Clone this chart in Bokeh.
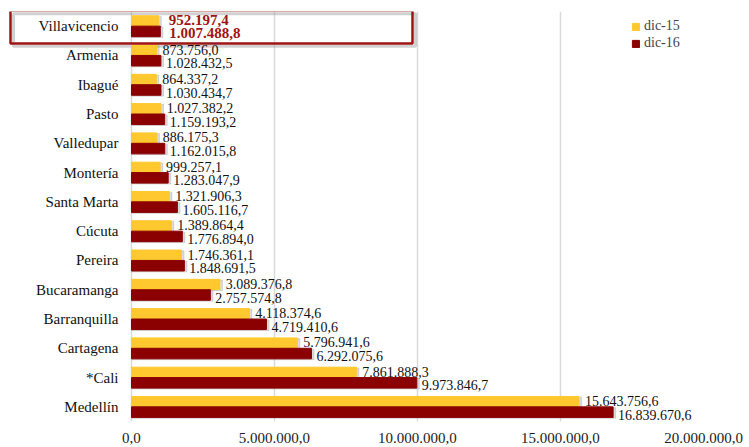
from bokeh.plotting import figure
from bokeh.models import FactorRange, ColumnDataSource, BoxAnnotation, Legend, LegendItem, FixedTicker
from bokeh.transform import dodge
from bokeh.core.properties import value
from bokeh.embed import file_html
from bokeh.resources import INLINE

cities = ["Villavicencio", "Armenia", "Ibagué", "Pasto", "Valledupar", "Montería",
          "Santa Marta", "Cúcuta", "Pereira", "Bucaramanga", "Barranquilla",
          "Cartagena", "*Cali", "Medellín"]
dic15 = [952197.4, 873756.0, 864337.2, 1027382.2, 886175.3, 999257.1, 1321906.3,
         1389864.4, 1746361.1, 3089376.8, 4118374.6, 5796941.6, 7861888.3, 15643756.6]
dic16 = [1007488.8, 1028432.5, 1030434.7, 1159193.2, 1162015.8, 1283047.9, 1605116.7,
         1776894.0, 1848691.5, 2757574.8, 4719410.6, 6292075.6, 9973846.7, 16839670.6]
series_names = ["dic-15", "dic-16"]
x_ticks = [0, 5000000, 10000000, 15000000, 20000000]
x_tick_labels = ["0,0", "5.000.000,0", "10.000.000,0", "15.000.000,0", "20.000.000,0"]
highlight = "Villavicencio"

YELLOW = "#FFC82E"
RED = "#8B0000"
HL = "#9E1414"
FONT = "'Liberation Serif', 'Times New Roman', serif"


def fmt(v):
    s = f"{v:,.1f}"
    return s.replace(",", "X").replace(".", ",").replace("X", ".")


order = cities[::-1]
rows = [(c, a, b) for c, a, b in zip(cities, dic15, dic16)]
normal = [r for r in rows if r[0] != highlight]
hl = [r for r in rows if r[0] == highlight]

src = ColumnDataSource(dict(city=cities, zero=[0] * len(cities), d15=dic15, d16=dic16,
                            s15=[v + 90000 for v in dic15], s16=[v + 90000 for v in dic16]))
src_n = ColumnDataSource(dict(city=[r[0] for r in normal],
                              d15=[r[1] for r in normal], d16=[r[2] for r in normal],
                              l15=[fmt(r[1]) for r in normal], l16=[fmt(r[2]) for r in normal]))
src_h = ColumnDataSource(dict(city=[r[0] for r in hl],
                              d15=[r[1] for r in hl], d16=[r[2] for r in hl],
                              l15=[fmt(r[1]) for r in hl], l16=[fmt(r[2]) for r in hl]))

# leave room left of zero (inside the frame) for the category labels and highlight box
p = figure(width=745, height=445, y_range=FactorRange(*order, range_padding=0),
           x_range=(-4440000, 20000000), output_backend="svg", toolbar_location=None,
           min_border_left=4, min_border_right=42, min_border_top=11, min_border_bottom=22)
p.outline_line_color = None
p.background_fill_color = "white"

# highlight box
idx = order.index(highlight)
shadow_box = BoxAnnotation(left=13, right=415, left_units="canvas", right_units="canvas",
                           top=idx + 1 - 0.08, bottom=idx - 0.19,
                           fill_color=None, fill_alpha=0, line_color="#999999",
                           line_alpha=0.45, line_width=3, level="underlay")
p.add_layout(shadow_box)
box = BoxAnnotation(left=10, right=412, left_units="canvas", right_units="canvas",
                    top=idx + 1 + 0.03, bottom=idx - 0.09,
                    fill_color=None, fill_alpha=0, line_color=HL, line_alpha=1,
                    line_width=2.5, level="overlay")
p.add_layout(box)

# category labels (left of zero line)
p.text(x="zero", y="city", text="city", source=src, x_offset=-13, text_align="right",
       text_baseline="middle", text_font=value(FONT), text_font_size="15px",
       text_color="#111111")

# shadows
p.hbar(y=dodge("city", 0.15, range=p.y_range), left=0, right="s15", height=0.36,
       source=src, color="#9a9a9a", alpha=0.35)
p.hbar(y=dodge("city", -0.21, range=p.y_range), left=0, right="s16", height=0.36,
       source=src, color="#9a9a9a", alpha=0.35)

r15 = p.hbar(y=dodge("city", 0.18, range=p.y_range), left=0, right="d15", height=0.35,
             source=src, color=YELLOW)
r16 = p.hbar(y=dodge("city", -0.18, range=p.y_range), left=0, right="d16", height=0.36,
             source=src, color=RED)

# value labels
p.text(x="d15", y=dodge("city", 0.2, range=p.y_range), text="l15", source=src_n,
       x_offset=6, text_baseline="middle", text_font=value(FONT),
       text_font_size="14px", text_color="#111111")
p.text(x="d16", y=dodge("city", -0.27, range=p.y_range), text="l16", source=src_n,
       x_offset=5, text_baseline="middle", text_font=value(FONT),
       text_font_size="14px", text_color="#111111")
p.text(x="d15", y=dodge("city", 0.2, range=p.y_range), text="l15", source=src_h,
       x_offset=10, text_baseline="middle", text_font=value(FONT),
       text_font_size="15px", text_font_style="bold", text_color=HL)
p.text(x="d16", y=dodge("city", -0.24, range=p.y_range), text="l16", source=src_h,
       x_offset=9, text_baseline="middle", text_font=value(FONT),
       text_font_size="15px", text_font_style="bold", text_color=HL)

# axes
p.xaxis.ticker = FixedTicker(ticks=x_ticks)
p.xaxis.major_label_overrides = {t: l for t, l in zip(x_ticks, x_tick_labels)}
p.xaxis.axis_line_color = None
p.xaxis.major_tick_line_color = None
p.xaxis.minor_tick_line_color = None
p.xaxis.major_label_standoff = 5
p.xaxis.major_label_text_font = FONT
p.xaxis.major_label_text_font_size = "15px"
p.xaxis.major_label_text_color = "#222222"
p.yaxis.visible = False

p.xgrid.grid_line_color = "#d9d9d9"
p.xgrid.grid_line_width = 1.5
p.ygrid.grid_line_color = None

legend = Legend(items=[LegendItem(label=series_names[0], renderers=[r15]),
                       LegendItem(label=series_names[1], renderers=[r16])],
                location="top_right", border_line_color=None, background_fill_alpha=0,
                label_text_font=FONT, label_text_font_size="14px",
                glyph_width=9, glyph_height=9, label_height=15, spacing=1,
                padding=3, margin=0, label_standoff=4)
legend.location = (627, 370)
p.add_layout(legend)

open("out.html", "w").write(file_html(p, INLINE))
